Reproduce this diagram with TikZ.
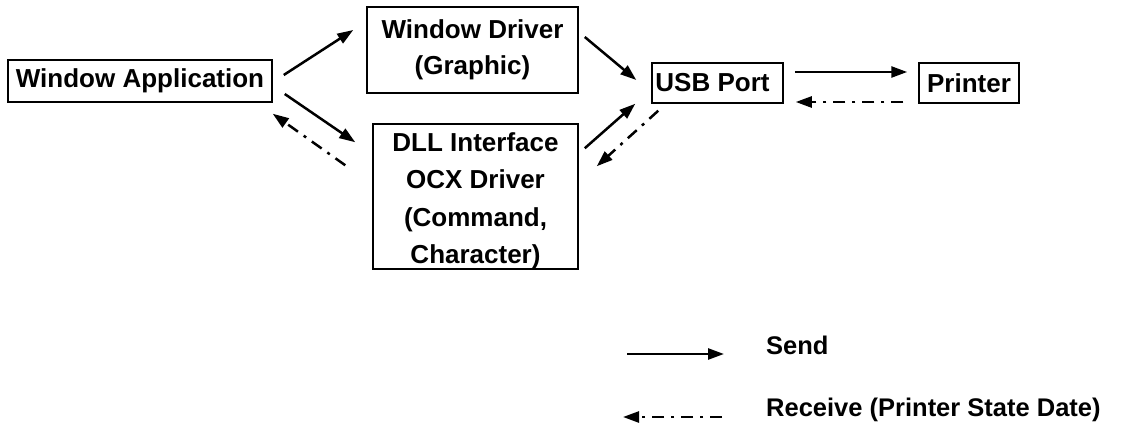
\documentclass[tikz,border=0pt]{standalone}
\usepackage{fontspec}
\setmainfont{Liberation Sans}
\usetikzlibrary{calc,arrows.meta}
\begin{document}
\begin{tikzpicture}[x=1pt,y=-1pt,
  box/.style={draw,line width=1.5pt,inner sep=0pt,align=center,
    font=\fontsize{26}{36}\selectfont\bfseries},
  snd/.style={line width=2.5pt,-{Triangle[length=16pt,width=11pt]}},
  rcv/.style={line width=2.5pt,-{Triangle[length=16pt,width=11pt]},
    dash pattern=on 12pt off 7pt on 3pt off 7pt},
  lbl/.style={inner sep=0pt,anchor=base west,font=\fontsize{25.5}{30}\selectfont\bfseries}]
\useasboundingbox (0,0) rectangle (1126,423);
\node[box,minimum width=264pt,minimum height=42pt] (wa) at (140,81) {Window Application};
\node[box,minimum width=211pt,minimum height=86pt] (wd) at (472.5,50) {Window Driver\\(Graphic)};
\node[box,minimum width=205pt,text height=82pt,text depth=63pt,font=\fontsize{26}{37.5}\selectfont\bfseries] (dll) at (475.5,196.5)
  {\begin{tabular}{@{}c@{}}DLL Interface\\OCX Driver\\(Command,\\Character)\end{tabular}};
\node[box,minimum width=131pt,minimum height=40pt] (usb) at (717.5,83) {USB Port\hspace{10pt}};
\node[box,minimum width=100pt,minimum height=40pt] (prn) at (969,83) {Printer};
% connectors
\draw[snd] ($(wa.east)+(11,-6)$) -- ($(wd.west)+(-13,-20)$);
\draw[snd] ($(wa.east)+(12,13)$) -- ($(dll.north west)+(-17,19)$);
\draw[rcv] ($(dll.north west)+(-27,42)$) -- ($(wa.south east)+(0,11)$);
\draw[snd] ($(wd.east)+(6,-13)$) -- ($(usb.west)+(-15,-3)$);
\draw[snd] ($(dll.north east)+(6,25)$) -- ($(usb.south west)+(-16,0)$);
\draw[rcv] ($(usb.south west)+(7,7)$) -- ($(dll.north east)+(18,43)$);
\draw[snd] ($(usb.east)+(11,-11)$) -- ($(prn.west)+(-11,-11)$);
\draw[rcv] ($(prn.west)+(-15,19)$) -- ($(usb.east)+(12,19)$);
% legend
\coordinate (s1) at (627,354);
\coordinate (s2) at (724,354);
\coordinate (r1) at (722,417);
\coordinate (r2) at (623,417);
\draw[snd] (s1) -- (s2);
\draw[rcv] (r1) -- (r2);
\node[lbl] (ls) at (766,354) {Send};
\node[lbl] (lr) at (766,416) {Receive (Printer State Date)};
\end{tikzpicture}
\end{document}
